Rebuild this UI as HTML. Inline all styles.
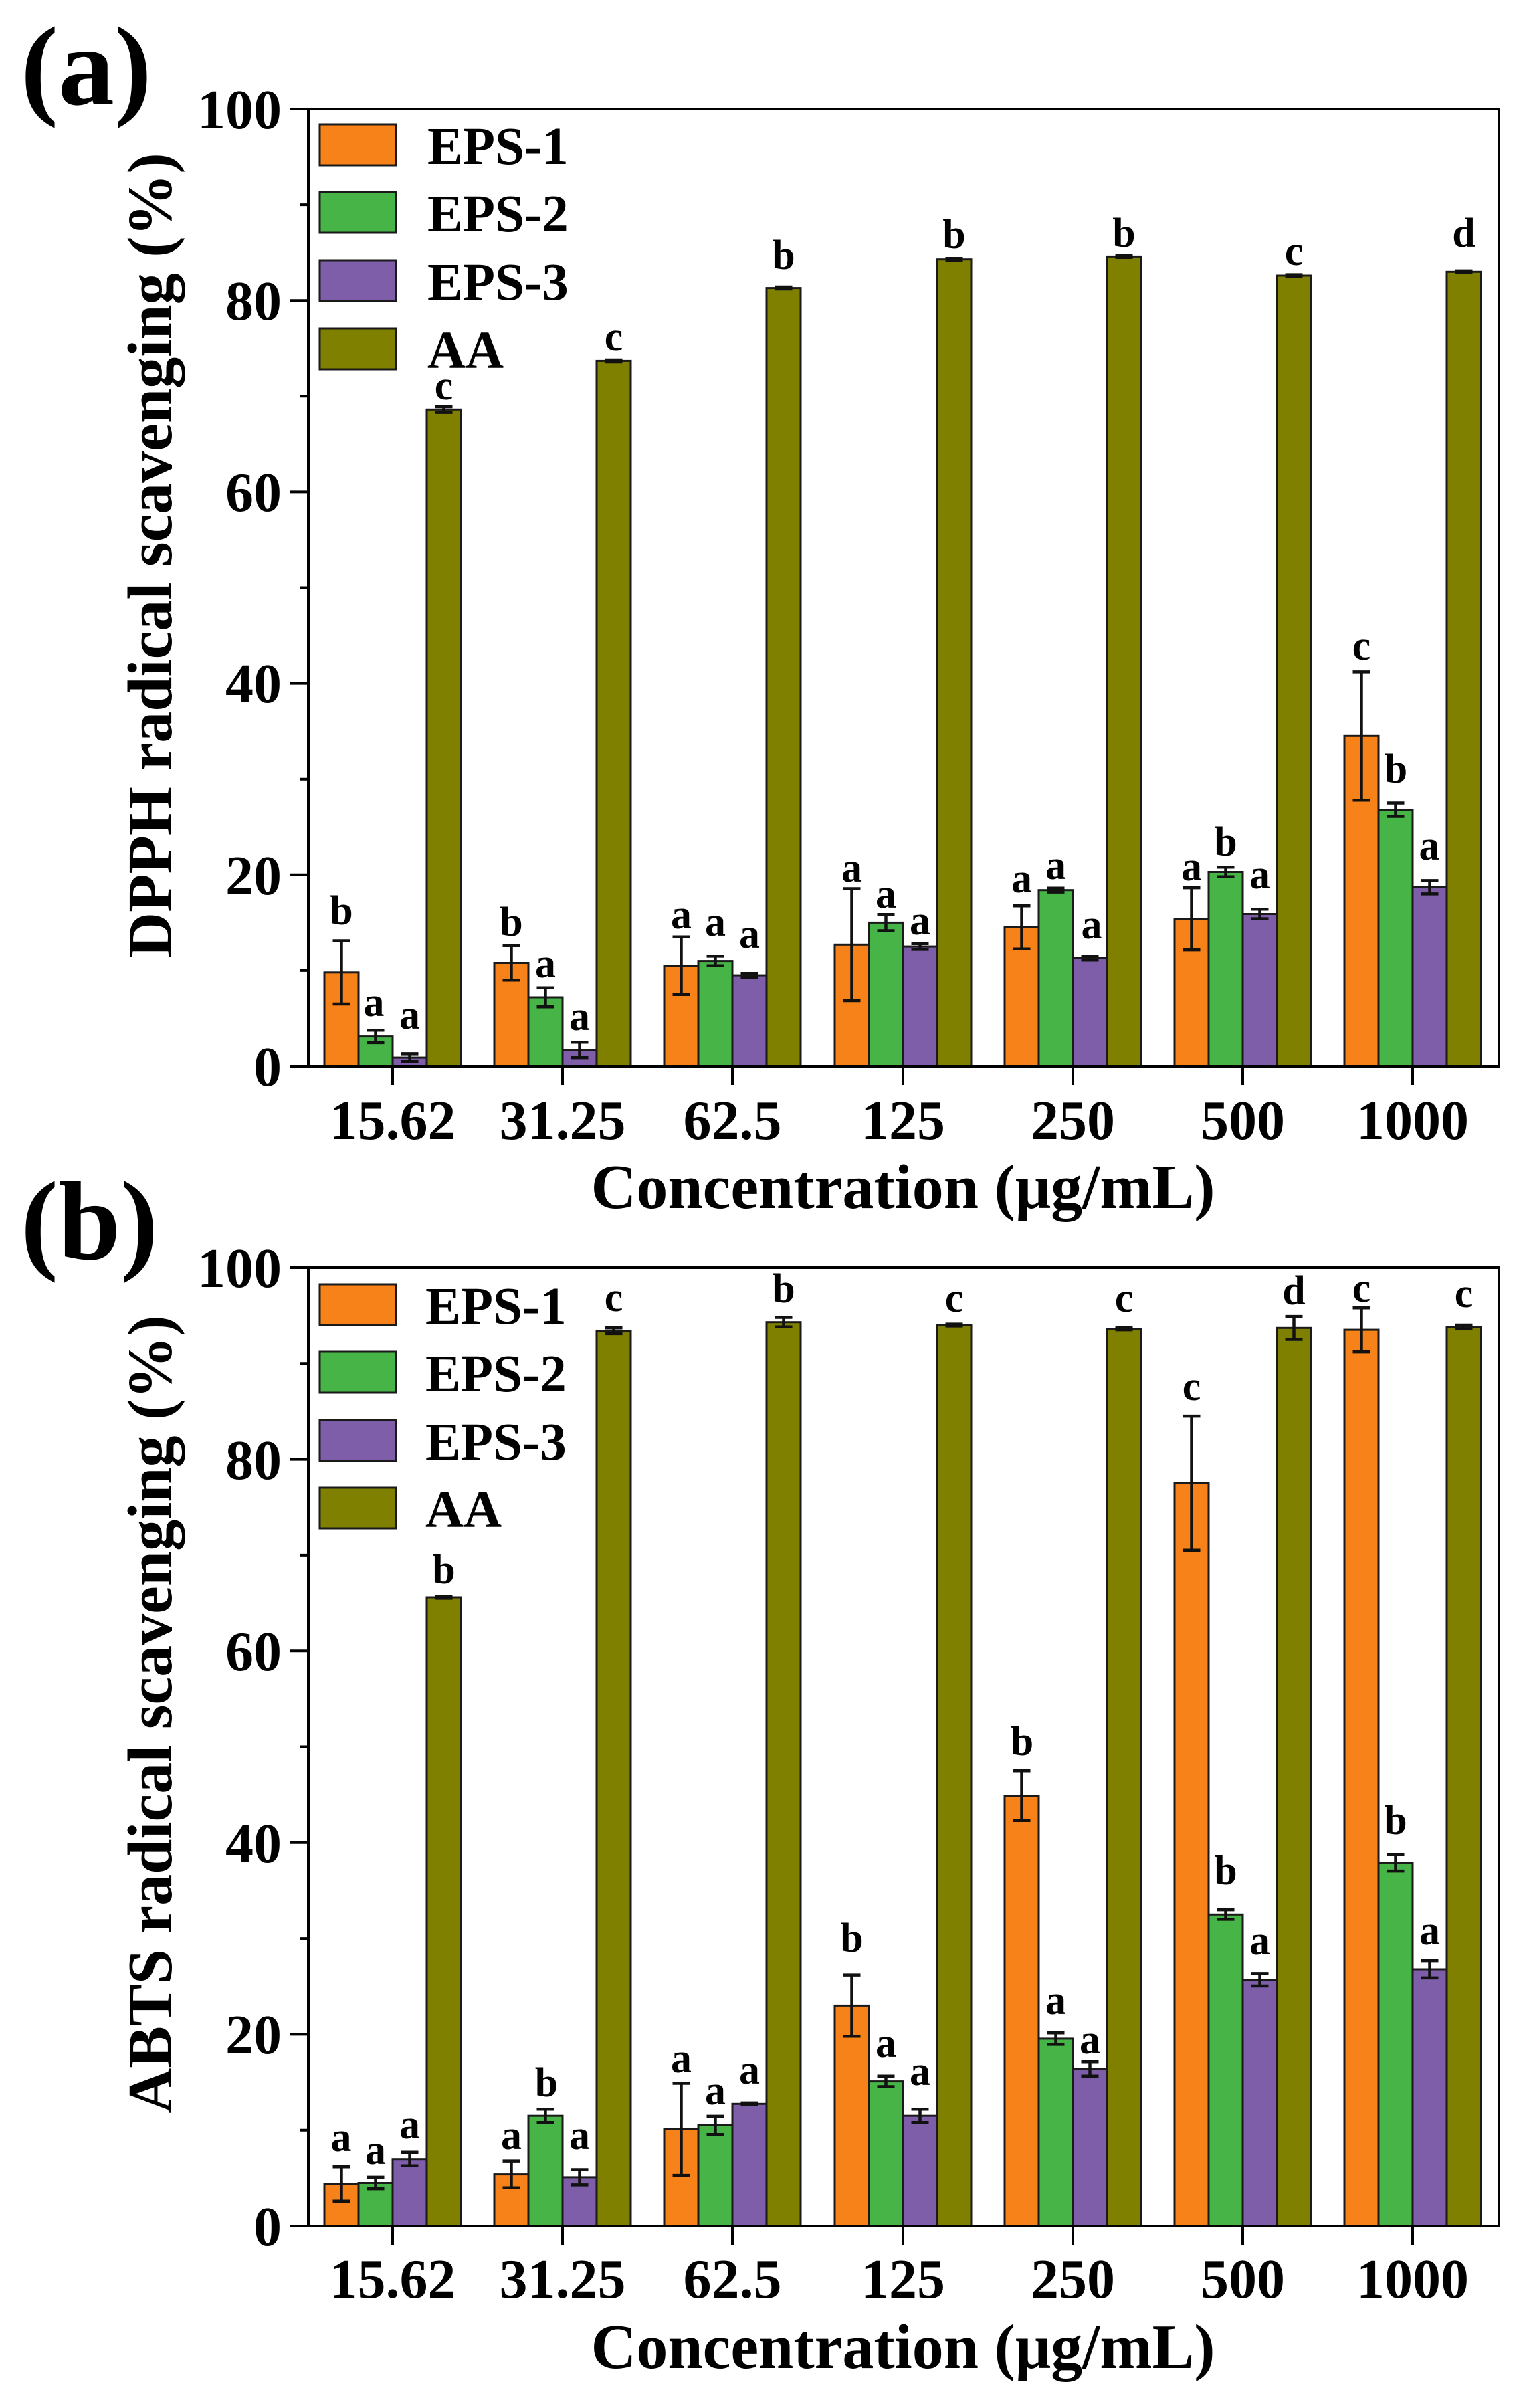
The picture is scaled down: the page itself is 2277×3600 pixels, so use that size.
<!DOCTYPE html>
<html><head><meta charset="utf-8"><style>
html,body{margin:0;padding:0;background:#fff;}
svg{display:block;}
text{font-family:"Liberation Serif","Times New Roman",serif;font-weight:bold;fill:#000;}
.o{fill:#F8821A;stroke:#1a1a1a;stroke-width:3;}
.g{fill:#46B446;stroke:#1a1a1a;stroke-width:3;}
.p{fill:#7E5EA8;stroke:#1a1a1a;stroke-width:3;}
.aa{fill:#808000;stroke:#1a1a1a;stroke-width:3;}
.ax{fill:none;stroke:#000;stroke-width:4;}
.eb{fill:none;stroke:#111;stroke-width:4.5;}
.lb{font-size:62px;text-anchor:middle;}
.tl{font-size:84px;text-anchor:end;}
.xl{font-size:84px;text-anchor:middle;}
.tt{font-size:94px;text-anchor:middle;}
.lg{font-size:79px;}
.pl{font-size:168px;}
</style></head><body>
<svg width="2277" height="3600" viewBox="0 0 2277 3600" xmlns="http://www.w3.org/2000/svg">
<rect x="0" y="0" width="2277" height="3600" fill="#fff"/>

<!-- ================= PANEL (a) ================= -->
<text class="pl" x="31" y="156">(a)</text>

<!-- bars (a) -->
<rect class="o" x="485" y="1453.8" width="51" height="140.2"/>
<rect class="g" x="536" y="1549.6" width="51" height="44.4"/>
<rect class="p" x="587" y="1581.1" width="51" height="12.9"/>
<rect class="aa" x="638" y="612.3" width="51" height="981.7"/>

<rect class="o" x="739" y="1439.5" width="51" height="154.5"/>
<rect class="g" x="790" y="1491" width="51" height="103"/>
<rect class="p" x="841" y="1569.7" width="51" height="24.3"/>
<rect class="aa" x="892" y="539.4" width="51" height="1054.6"/>

<rect class="o" x="993" y="1443.7" width="51" height="150.3"/>
<rect class="g" x="1044" y="1436.6" width="51" height="157.4"/>
<rect class="p" x="1095" y="1458.1" width="51" height="135.9"/>
<rect class="aa" x="1146" y="430.6" width="51" height="1163.4"/>

<rect class="o" x="1248" y="1412.3" width="51" height="181.7"/>
<rect class="g" x="1299" y="1379.4" width="51" height="214.6"/>
<rect class="p" x="1350" y="1415.1" width="51" height="178.9"/>
<rect class="aa" x="1401" y="387.7" width="51" height="1206.3"/>

<rect class="o" x="1502" y="1386.5" width="51" height="207.5"/>
<rect class="g" x="1553" y="1330.7" width="51" height="263.3"/>
<rect class="p" x="1604" y="1432.3" width="51" height="161.7"/>
<rect class="aa" x="1655" y="383.4" width="51" height="1210.6"/>

<rect class="o" x="1756" y="1373.6" width="51" height="220.4"/>
<rect class="g" x="1807" y="1303.5" width="51" height="290.5"/>
<rect class="p" x="1858" y="1366.5" width="51" height="227.5"/>
<rect class="aa" x="1909" y="412" width="51" height="1182"/>

<rect class="o" x="2010" y="1100.3" width="51" height="493.7"/>
<rect class="g" x="2061" y="1210.5" width="51" height="383.5"/>
<rect class="p" x="2112" y="1326.4" width="51" height="267.6"/>
<rect class="aa" x="2163" y="406.3" width="51" height="1187.7"/>

<!-- axes (a) -->
<rect class="ax" x="461" y="163" width="1780" height="1431"/>
<path class="ax" d="M434 163H461M434 449.2H461M434 735.4H461M434 1021.6H461M434 1307.8H461M434 1594H461
M448 306.1H461M448 592.3H461M448 878.5H461M448 1164.7H461M448 1450.9H461
M587 1594V1622M841 1594V1622M1095 1594V1622M1350 1594V1622M1604 1594V1622M1858 1594V1622M2112 1594V1622"/>

<!-- error bars (a) -->
<path class="eb" d="
M510.5 1406.5V1501M497.5 1406.5H523.5M497.5 1501H523.5
M561.5 1540.3V1558.9M548.5 1540.3H574.5M548.5 1558.9H574.5
M612.5 1575.4V1586.8M599.5 1575.4H625.5M599.5 1586.8H625.5
M663.5 608V616.6M650.5 608H676.5M650.5 616.6H676.5
M764.5 1413.7V1465.2M751.5 1413.7H777.5M751.5 1465.2H777.5
M815.5 1476.7V1505.3M802.5 1476.7H828.5M802.5 1505.3H828.5
M866.5 1558.2V1581.1M853.5 1558.2H879.5M853.5 1581.1H879.5
M917.5 538V541M904.5 538H930.5M904.5 541H930.5
M1018.5 1400.8V1486.7M1005.5 1400.8H1031.5M1005.5 1486.7H1031.5
M1069.5 1429.4V1443.7M1056.5 1429.4H1082.5M1056.5 1443.7H1082.5
M1120.5 1455.2V1460.9M1107.5 1455.2H1133.5M1107.5 1460.9H1133.5
M1171.5 429V432M1158.5 429H1184.5M1158.5 432H1184.5
M1273.5 1328.5V1496M1260.5 1328.5H1286.5M1260.5 1496H1286.5
M1324.5 1367.2V1391.5M1311.5 1367.2H1337.5M1311.5 1391.5H1337.5
M1375.5 1410.8V1419.4M1362.5 1410.8H1388.5M1362.5 1419.4H1388.5
M1426.5 386.3V389.1M1413.5 386.3H1439.5M1413.5 389.1H1439.5
M1527.5 1354.3V1418.7M1514.5 1354.3H1540.5M1514.5 1418.7H1540.5
M1578.5 1327.8V1333.6M1565.5 1327.8H1591.5M1565.5 1333.6H1591.5
M1629.5 1429.4V1435.2M1616.5 1429.4H1642.5M1616.5 1435.2H1642.5
M1680.5 382V384.8M1667.5 382H1693.5M1667.5 384.8H1693.5
M1781.5 1327.1V1420.1M1768.5 1327.1H1794.5M1768.5 1420.1H1794.5
M1832.5 1296.3V1310.7M1819.5 1296.3H1845.5M1819.5 1310.7H1845.5
M1883.5 1359.3V1373.6M1870.5 1359.3H1896.5M1870.5 1373.6H1896.5
M1934.5 410.6V413.4M1921.5 410.6H1947.5M1921.5 413.4H1947.5
M2035.5 1004.4V1196.2M2022.5 1004.4H2048.5M2022.5 1196.2H2048.5
M2086.5 1200.5V1220.5M2073.5 1200.5H2099.5M2073.5 1220.5H2099.5
M2137.5 1316.4V1336.4M2124.5 1316.4H2150.5M2124.5 1336.4H2150.5
M2188.5 404.9V407.7M2175.5 404.9H2201.5M2175.5 407.7H2201.5"/>

<!-- significance letters (a) -->
<text class="lb" x="510.5" y="1382">b</text>
<text class="lb" x="559" y="1519">a</text>
<text class="lb" x="612.5" y="1538">a</text>
<text class="lb" x="663.5" y="597">c</text>
<text class="lb" x="764.5" y="1399">b</text>
<text class="lb" x="815.5" y="1461">a</text>
<text class="lb" x="866.5" y="1540">a</text>
<text class="lb" x="917.5" y="524">c</text>
<text class="lb" x="1018.5" y="1388">a</text>
<text class="lb" x="1069.5" y="1399">a</text>
<text class="lb" x="1120.5" y="1417">a</text>
<text class="lb" x="1171.5" y="402">b</text>
<text class="lb" x="1273.5" y="1318">a</text>
<text class="lb" x="1324.5" y="1357">a</text>
<text class="lb" x="1375.5" y="1397">a</text>
<text class="lb" x="1426.5" y="371">b</text>
<text class="lb" x="1527.5" y="1334">a</text>
<text class="lb" x="1578.5" y="1314">a</text>
<text class="lb" x="1632" y="1403">a</text>
<text class="lb" x="1680.5" y="369">b</text>
<text class="lb" x="1781.5" y="1316">a</text>
<text class="lb" x="1832.5" y="1279">b</text>
<text class="lb" x="1883.5" y="1328">a</text>
<text class="lb" x="1934.5" y="396">c</text>
<text class="lb" x="2035.5" y="986">c</text>
<text class="lb" x="2087" y="1170">b</text>
<text class="lb" x="2137" y="1285">a</text>
<text class="lb" x="2188.5" y="369">d</text>

<!-- tick labels (a) -->
<text class="tl" x="421" y="192">100</text>
<text class="tl" x="421" y="478">80</text>
<text class="tl" x="421" y="764">60</text>
<text class="tl" x="421" y="1050">40</text>
<text class="tl" x="421" y="1337">20</text>
<text class="tl" x="421" y="1623">0</text>

<text class="xl" x="587" y="1703">15.62</text>
<text class="xl" x="841" y="1703">31.25</text>
<text class="xl" x="1095" y="1703">62.5</text>
<text class="xl" x="1350" y="1703">125</text>
<text class="xl" x="1604" y="1703">250</text>
<text class="xl" x="1858" y="1703">500</text>
<text class="xl" x="2112" y="1703">1000</text>

<text class="tt" x="1350" y="1806">Concentration (μg/mL)</text>
<text class="tt" transform="translate(256,830) rotate(-90)">DPPH radical scavenging (%)</text>

<!-- legend (a) -->
<rect class="o" x="478" y="186" width="114" height="61"/>
<rect class="g" x="478" y="287" width="114" height="61"/>
<rect class="p" x="478" y="389" width="114" height="61"/>
<rect class="aa" x="478" y="491" width="114" height="61"/>
<text class="lg" x="639" y="245">EPS-1</text>
<text class="lg" x="639" y="346">EPS-2</text>
<text class="lg" x="639" y="448">EPS-3</text>
<text class="lg" x="639" y="550">AA</text>

<!-- ================= PANEL (b) ================= -->
<text class="pl" x="31" y="1882">(b)</text>

<rect class="o" x="485" y="3264.9" width="51" height="63.1"/>
<rect class="g" x="536" y="3263.5" width="51" height="64.5"/>
<rect class="p" x="587" y="3227.7" width="51" height="100.3"/>
<rect class="aa" x="638" y="2388" width="51" height="940"/>

<rect class="o" x="739" y="3250.6" width="51" height="77.4"/>
<rect class="g" x="790" y="3163.2" width="51" height="164.8"/>
<rect class="p" x="841" y="3254.9" width="51" height="73.1"/>
<rect class="aa" x="892" y="1989.6" width="51" height="1338.4"/>

<rect class="o" x="993" y="3183.3" width="51" height="144.7"/>
<rect class="g" x="1044" y="3177.5" width="51" height="150.5"/>
<rect class="p" x="1095" y="3145.3" width="51" height="182.7"/>
<rect class="aa" x="1146" y="1976.7" width="51" height="1351.3"/>

<rect class="o" x="1248" y="2998.4" width="51" height="329.6"/>
<rect class="g" x="1299" y="3111.6" width="51" height="216.4"/>
<rect class="p" x="1350" y="3163.2" width="51" height="164.8"/>
<rect class="aa" x="1401" y="1981" width="51" height="1347"/>

<rect class="o" x="1502" y="2684.6" width="51" height="643.4"/>
<rect class="g" x="1553" y="3047.9" width="51" height="280.1"/>
<rect class="p" x="1604" y="3093" width="51" height="235"/>
<rect class="aa" x="1655" y="1986.7" width="51" height="1341.3"/>

<rect class="o" x="1756" y="2217.4" width="51" height="1110.6"/>
<rect class="g" x="1807" y="2862.3" width="51" height="465.7"/>
<rect class="p" x="1858" y="2959.7" width="51" height="368.3"/>
<rect class="aa" x="1909" y="1985.3" width="51" height="1342.7"/>

<rect class="o" x="2010" y="1988.1" width="51" height="1339.9"/>
<rect class="g" x="2061" y="2784.9" width="51" height="543.1"/>
<rect class="p" x="2112" y="2944" width="51" height="384"/>
<rect class="aa" x="2163" y="1983.8" width="51" height="1344.2"/>

<rect class="ax" x="461" y="1895" width="1780" height="1433"/>
<path class="ax" d="M434 1895H461M434 2181.6H461M434 2468.2H461M434 2754.8H461M434 3041.4H461M434 3328H461
M448 2038.3H461M448 2324.9H461M448 2611.5H461M448 2898.1H461M448 3184.7H461
M587 3328V3356M841 3328V3356M1095 3328V3356M1350 3328V3356M1604 3328V3356M1858 3328V3356M2112 3328V3356"/>

<path class="eb" d="
M510.5 3239.2V3290.7M497.5 3239.2H523.5M497.5 3290.7H523.5
M561.5 3254.9V3272.1M548.5 3254.9H574.5M548.5 3272.1H574.5
M612.5 3217.7V3237.7M599.5 3217.7H625.5M599.5 3237.7H625.5
M663.5 2386.6V2389.4M650.5 2386.6H676.5M650.5 2389.4H676.5
M764.5 3230.6V3270.7M751.5 3230.6H777.5M751.5 3270.7H777.5
M815.5 3153.2V3173.2M802.5 3153.2H828.5M802.5 3173.2H828.5
M866.5 3243.5V3266.4M853.5 3243.5H879.5M853.5 3266.4H879.5
M917.5 1985.3V1993.9M904.5 1985.3H930.5M904.5 1993.9H930.5
M1018.5 3114.5V3252.1M1005.5 3114.5H1031.5M1005.5 3252.1H1031.5
M1069.5 3163.9V3191.2M1056.5 3163.9H1082.5M1056.5 3191.2H1082.5
M1120.5 3143.9V3146.7M1107.5 3143.9H1133.5M1107.5 3146.7H1133.5
M1171.5 1969.5V1983.8M1158.5 1969.5H1184.5M1158.5 1983.8H1184.5
M1273.5 2952.6V3044.3M1260.5 2952.6H1286.5M1260.5 3044.3H1286.5
M1324.5 3103.7V3119.5M1311.5 3103.7H1337.5M1311.5 3119.5H1337.5
M1375.5 3153.2V3173.2M1362.5 3153.2H1388.5M1362.5 3173.2H1388.5
M1426.5 1979.6V1982.4M1413.5 1979.6H1439.5M1413.5 1982.4H1439.5
M1527.5 2647.3V2721.8M1514.5 2647.3H1540.5M1514.5 2721.8H1540.5
M1578.5 3039.2V3056.4M1565.5 3039.2H1591.5M1565.5 3056.4H1591.5
M1629.5 3082.2V3103.7M1616.5 3082.2H1642.5M1616.5 3103.7H1642.5
M1680.5 1985.3V1988.1M1667.5 1985.3H1693.5M1667.5 1988.1H1693.5
M1781.5 2117.1V2317.7M1768.5 2117.1H1794.5M1768.5 2317.7H1794.5
M1832.5 2855.1V2869.4M1819.5 2855.1H1845.5M1819.5 2869.4H1845.5
M1883.5 2950.4V2969M1870.5 2950.4H1896.5M1870.5 2969H1896.5
M1934.5 1968.1V2002.5M1921.5 1968.1H1947.5M1921.5 2002.5H1947.5
M2035.5 1955.2V2021.1M2022.5 1955.2H2048.5M2022.5 2021.1H2048.5
M2086.5 2772.7V2797.1M2073.5 2772.7H2099.5M2073.5 2797.1H2099.5
M2137.5 2931.1V2956.9M2124.5 2931.1H2150.5M2124.5 2956.9H2150.5
M2188.5 1981V1986.7M2175.5 1981H2201.5M2175.5 1986.7H2201.5"/>

<text class="lb" x="510" y="3216">a</text>
<text class="lb" x="561.5" y="3235">a</text>
<text class="lb" x="612.5" y="3197">a</text>
<text class="lb" x="663.5" y="2367">b</text>
<text class="lb" x="764.5" y="3213">a</text>
<text class="lb" x="817" y="3134">b</text>
<text class="lb" x="866.5" y="3213">a</text>
<text class="lb" x="917.5" y="1960">c</text>
<text class="lb" x="1018.5" y="3098">a</text>
<text class="lb" x="1069.5" y="3146">a</text>
<text class="lb" x="1120.5" y="3115">a</text>
<text class="lb" x="1171.5" y="1947">b</text>
<text class="lb" x="1273.5" y="2918">b</text>
<text class="lb" x="1324.5" y="3075">a</text>
<text class="lb" x="1375.5" y="3117">a</text>
<text class="lb" x="1426.5" y="1961">c</text>
<text class="lb" x="1528" y="2624">b</text>
<text class="lb" x="1578.5" y="3011">a</text>
<text class="lb" x="1629.5" y="3070">a</text>
<text class="lb" x="1680.5" y="1961">c</text>
<text class="lb" x="1781.5" y="2093">c</text>
<text class="lb" x="1832.5" y="2817">b</text>
<text class="lb" x="1883.5" y="2922">a</text>
<text class="lb" x="1934.5" y="1950">d</text>
<text class="lb" x="2035.5" y="1946">c</text>
<text class="lb" x="2086.5" y="2742">b</text>
<text class="lb" x="2137.5" y="2907">a</text>
<text class="lb" x="2188.5" y="1954">c</text>

<text class="tl" x="421" y="1924">100</text>
<text class="tl" x="421" y="2211">80</text>
<text class="tl" x="421" y="2497">60</text>
<text class="tl" x="421" y="2784">40</text>
<text class="tl" x="421" y="3070">20</text>
<text class="tl" x="421" y="3357">0</text>

<text class="xl" x="587" y="3435">15.62</text>
<text class="xl" x="841" y="3435">31.25</text>
<text class="xl" x="1095" y="3435">62.5</text>
<text class="xl" x="1350" y="3435">125</text>
<text class="xl" x="1604" y="3435">250</text>
<text class="xl" x="1858" y="3435">500</text>
<text class="xl" x="2112" y="3435">1000</text>

<text class="tt" x="1350" y="3540">Concentration (μg/mL)</text>
<text class="tt" transform="translate(256,2563) rotate(-90)">ABTS radical scavenging (%)</text>

<rect class="o" x="478" y="1920" width="114" height="61"/>
<rect class="g" x="478" y="2021" width="114" height="61"/>
<rect class="p" x="478" y="2123" width="114" height="61"/>
<rect class="aa" x="478" y="2224" width="114" height="61"/>
<text class="lg" x="636" y="1979">EPS-1</text>
<text class="lg" x="636" y="2080">EPS-2</text>
<text class="lg" x="636" y="2182">EPS-3</text>
<text class="lg" x="636" y="2283">AA</text>
</svg>
</body></html>
